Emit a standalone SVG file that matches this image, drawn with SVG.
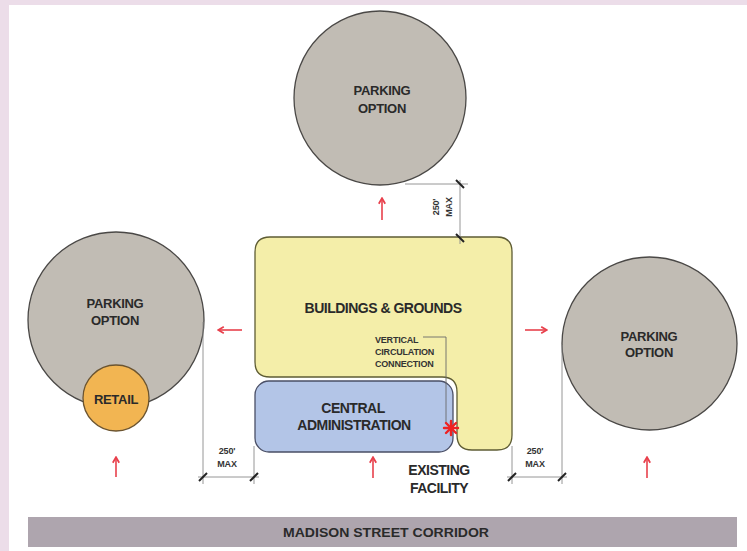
<svg xmlns="http://www.w3.org/2000/svg" width="747" height="551" viewBox="0 0 747 551">
<defs>
<style>
text{font-family:"Liberation Sans",Arial,sans-serif;font-weight:bold;fill:#2a2a2a;text-anchor:middle}
.park{fill:#c1bcb4;stroke:#4a4846;stroke-width:1.3}
.lbl{font-size:13px;letter-spacing:-0.3px}
.small{font-size:9px;letter-spacing:-0.2px;fill:#333}
.dim{stroke:#8a8a8a;stroke-width:0.9;fill:none}
.tick{stroke:#222;stroke-width:2;fill:none}
.arr{stroke:#e8404c;stroke-width:1.6;fill:none;marker-end:url(#ah)}
</style>
<marker id="ah" viewBox="0 0 10 10" refX="7" refY="5" markerWidth="5" markerHeight="5" orient="auto" markerUnits="strokeWidth">
<path d="M1,1 L8,5 L1,9" fill="none" stroke="#e8404c" stroke-width="2.2"/>
</marker>
</defs>
<rect width="747" height="551" fill="#ecdde9"/>
<rect x="9" y="5" width="738" height="546" fill="#ffffff"/>

<g id="parking-top">
<ellipse class="park" cx="380" cy="98" rx="86" ry="87"/>
<text class="lbl" x="382" y="95">PARKING</text>
<text class="lbl" x="382" y="113">OPTION</text>
</g>

<g id="parking-left">
<circle class="park" cx="116" cy="320" r="88"/>
<text class="lbl" x="115" y="308">PARKING</text>
<text class="lbl" x="115" y="325">OPTION</text>
</g>

<g id="retail">
<circle cx="116" cy="398" r="33" fill="#f2b552" stroke="#6b5430" stroke-width="1.3"/>
<text class="lbl" x="116" y="404">RETAIL</text>
</g>

<g id="parking-right">
<ellipse class="park" cx="649.5" cy="343.5" rx="87.5" ry="86.5"/>
<text class="lbl" x="649" y="341">PARKING</text>
<text class="lbl" x="649" y="357">OPTION</text>
</g>

<g id="buildings-grounds">
<path d="M270,237 H497 Q512,237 512,252 V435 Q512,450 497,450 H472 Q457,450 457,435 V392 Q457,377 442,377 H270 Q255,377 255,362 V252 Q255,237 270,237 Z" fill="#f4eea9" stroke="#5e5c34" stroke-width="1.3"/>
<text x="383" y="313" style="font-size:14px;letter-spacing:-0.5px">BUILDINGS &amp; GROUNDS</text>
<text class="small" x="375" y="343" style="text-anchor:start">VERTICAL</text>
<text class="small" x="375" y="355" style="text-anchor:start">CIRCULATION</text>
<text class="small" x="375" y="367" style="text-anchor:start">CONNECTION</text>
</g>

<g id="central-administration">
<rect x="255" y="381" width="198" height="71" rx="14" fill="#b3c5e7" stroke="#4a4f66" stroke-width="1.3"/>
<text x="353" y="413" style="font-size:14px;letter-spacing:-0.5px">CENTRAL</text>
<text x="354" y="430" style="font-size:14px;letter-spacing:-0.5px">ADMINISTRATION</text>
</g>

<g id="existing-facility">
<text x="439" y="475" style="font-size:14px;letter-spacing:-0.5px">EXISTING</text>
<text x="439" y="493" style="font-size:14px;letter-spacing:-0.5px">FACILITY</text>
</g>

<g id="madison-street-corridor">
<rect x="28" y="517" width="709" height="30" fill="#aea5ae"/>
<text x="386" y="537" style="font-size:13px" textLength="206" lengthAdjust="spacingAndGlyphs">MADISON STREET CORRIDOR</text>
</g>

<g id="connectors">
<line class="arr" x1="382" y1="220" x2="382" y2="199"/>
<line class="arr" x1="242" y1="330" x2="219" y2="330"/>
<line class="arr" x1="525" y1="330" x2="546" y2="330"/>
<line class="arr" x1="116" y1="477" x2="116" y2="458"/>
<line class="arr" x1="373" y1="478" x2="373" y2="458"/>
<line class="arr" x1="647" y1="478" x2="647" y2="458"/>

<polyline points="423,337 446,337 446,424" fill="none" stroke="#6a6a6a" stroke-width="0.9"/>
<g stroke="#ee2222" stroke-width="2.4" stroke-linecap="round">
<line x1="451" y1="421" x2="451" y2="435"/>
<line x1="444" y1="428" x2="458" y2="428"/>
<line x1="446" y1="423" x2="456" y2="433"/>
<line x1="446" y1="433" x2="456" y2="423"/>
</g>

<g id="dim-top">
<line class="dim" x1="405" y1="184" x2="468" y2="184"/>
<line class="dim" x1="460" y1="180" x2="460" y2="244"/>
<line class="tick" x1="456" y1="180" x2="464" y2="188"/>
<line class="tick" x1="456" y1="234" x2="464" y2="242"/>
<g transform="translate(442,207) rotate(-90)">
<text class="small" x="0" y="-3">250'</text>
<text class="small" x="0" y="10">MAX</text>
</g>
</g>

<g id="dim-left">
<line class="dim" x1="203" y1="322" x2="203" y2="484"/>
<line class="dim" x1="254" y1="446" x2="254" y2="484"/>
<line class="dim" x1="198" y1="477" x2="259" y2="477"/>
<line class="tick" x1="199" y1="481" x2="207" y2="473"/>
<line class="tick" x1="250" y1="481" x2="258" y2="473"/>
<text class="small" x="227" y="454">250'</text>
<text class="small" x="227" y="467">MAX</text>
</g>

<g id="dim-right">
<line class="dim" x1="512" y1="446" x2="512" y2="484"/>
<line class="dim" x1="562" y1="345" x2="562" y2="484"/>
<line class="dim" x1="507" y1="477" x2="567" y2="477"/>
<line class="tick" x1="508" y1="481" x2="516" y2="473"/>
<line class="tick" x1="558" y1="481" x2="566" y2="473"/>
<text class="small" x="535" y="454">250'</text>
<text class="small" x="535" y="467">MAX</text>
</g>
</g>
</svg>
